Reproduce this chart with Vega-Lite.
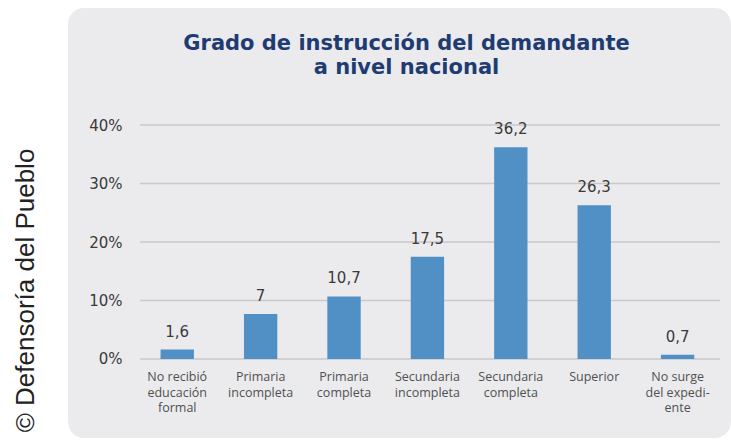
{
  "$schema": "https://vega.github.io/schema/vega-lite/v6.json",
  "autosize": {"type": "none"},
  "padding": {"left": 68, "top": 8, "right": 0, "bottom": 3},
  "width": 663,
  "height": 430,
  "background": "white",
  "config": {"view": {"fill": "#ebebee", "stroke": null, "cornerRadius": 16}},
  "title": {
    "text": ["Grado de instrucción del demandante", "a nivel nacional"],
    "font": "DejaVu Sans",
    "fontSize": 21,
    "fontWeight": "bold",
    "color": "#1f3c72",
    "anchor": "middle",
    "frame": "group",
    "offset": -70,
    "dx": 7,
    "lineHeight": 24,
    "zindex": 1
  },
  "datasets": {
    "edu": [
      {"cat": "No recibió|educación|formal", "value": 1.6, "label": "1,6"},
      {"cat": "Primaria|incompleta", "value": 7.7, "label": "7"},
      {"cat": "Primaria|completa", "value": 10.7, "label": "10,7"},
      {"cat": "Secundaria|incompleta", "value": 17.5, "label": "17,5"},
      {"cat": "Secundaria|completa", "value": 36.2, "label": "36,2"},
      {"cat": "Superior", "value": 26.3, "label": "26,3"},
      {"cat": "No surge|del expedi-|ente", "value": 0.7, "label": "0,7"}
    ],
    "grid": [{"g": 0}, {"g": 10}, {"g": 20}, {"g": 30}, {"g": 40}]
  },
  "layer": [
    {
      "data": {"name": "grid"},
      "mark": {"type": "rule", "color": "#c9c9cb", "strokeWidth": 1.5},
      "encoding": {
        "y": {"field": "g", "type": "quantitative", "scale": {"domain": [-13.52, 60.03], "nice": false, "zero": false}},
        "x": {"datum": "No recibió|educación|formal", "type": "nominal", "bandPosition": -0.614,
              "scale": {"domain": ["No recibió|educación|formal", "Primaria|incompleta", "Primaria|completa", "Secundaria|incompleta", "Secundaria|completa", "Superior", "No surge|del expedi-|ente"], "paddingInner": 0.6, "paddingOuter": 0.775, "align": 0.716}},
        "x2": {"datum": "No surge|del expedi-|ente", "bandPosition": 1.77}
      }
    },
    {
      "data": {"name": "edu"},
      "mark": {"type": "bar", "color": "#5090c5"},
      "encoding": {
        "x": {"field": "cat", "type": "nominal", "sort": null,
              "scale": {"domain": ["No recibió|educación|formal", "Primaria|incompleta", "Primaria|completa", "Secundaria|incompleta", "Secundaria|completa", "Superior", "No surge|del expedi-|ente"], "paddingInner": 0.6, "paddingOuter": 0.775, "align": 0.716},
              "axis": {"orient": "bottom", "offset": -79.2, "domain": false, "ticks": false, "labelAngle": 0, "labelAlign": "center", "labelExpr": "split(datum.value, '|')", "labelFont": "Open Sans", "labelFontSize": 12.5, "labelColor": "#505050", "labelLineHeight": 15.5, "labelPadding": 12, "labelBaseline": "top", "title": null, "zindex": 1}},
        "y": {"field": "value", "type": "quantitative", "scale": {"domain": [-13.52, 60.03], "nice": false, "zero": false},
              "axis": {"orient": "left", "offset": -72, "values": [0, 10, 20, 30, 40], "labelExpr": "datum.value + '%'", "domain": false, "ticks": false, "grid": false, "labelFont": "DejaVu Sans", "labelFontSize": 15, "labelColor": "#3a3a3a", "labelPadding": 18,
                       "title": "© Defensoría del Pueblo", "titleFont": "Liberation Sans", "titleFontSize": 26, "titleFontWeight": "normal", "titleColor": "#222222", "titleX": -107, "titleY": 282, "titleAngle": -90, "titleAlign": "center", "titleBaseline": "alphabetic", "zindex": 1}},
        "y2": {"datum": 0}
      }
    },
    {
      "data": {"name": "edu"},
      "mark": {"type": "text", "dy": -13, "baseline": "alphabetic", "font": "DejaVu Sans", "fontSize": 15, "color": "#3a3a3a"},
      "encoding": {
        "x": {"field": "cat", "type": "nominal", "sort": null},
        "y": {"field": "value", "type": "quantitative"},
        "text": {"field": "label"}
      }
    }
  ]
}
